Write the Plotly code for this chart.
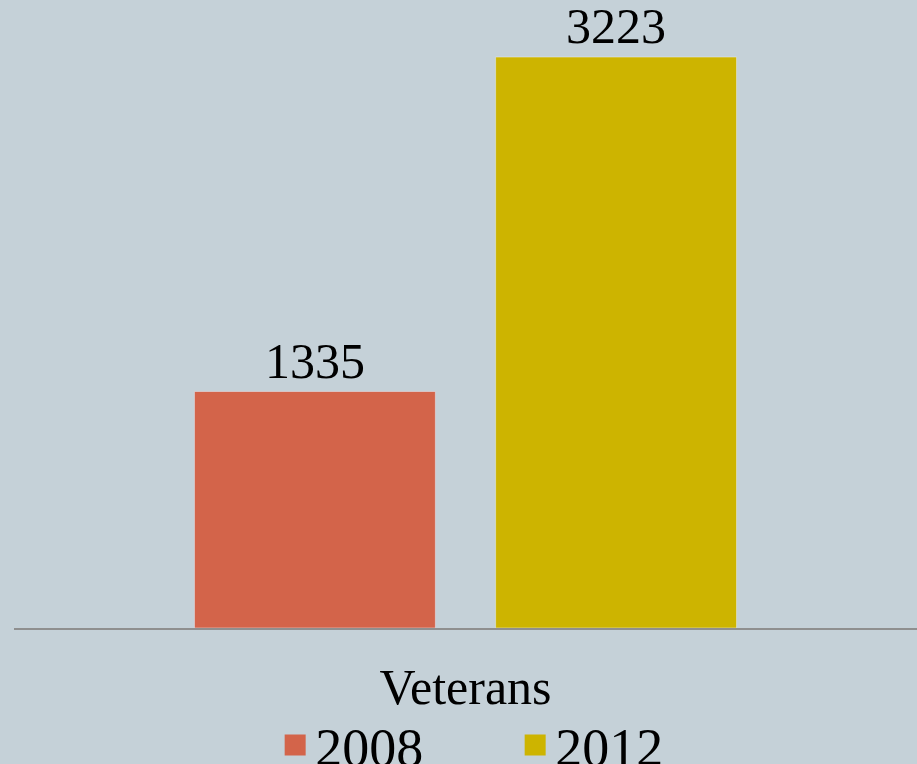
import plotly.graph_objects as go

categories = ["Veterans"]
series_names = ["2008", "2012"]
values_2008 = [1335]
values_2012 = [3223]
colors = ["#D3644A", "#CDB400"]

FONT = "Liberation Serif"
fig = go.Figure()
for name, vals, col in zip(series_names, [values_2008, values_2012], colors):
    fig.add_trace(go.Bar(
        x=categories, y=vals, name=name, marker_color=col,
        text=[str(v) for v in vals], textposition="outside",
        textfont=dict(family=FONT, size=50, color="black"),
        cliponaxis=False, showlegend=False,
    ))
for name, col in zip(series_names, colors):
    fig.add_trace(go.Scatter(
        x=[None], y=[None], mode="markers", name=name,
        marker=dict(symbol="square", size=16, color=col,
                    line=dict(color=col, width=5)),
    ))

fig.update_layout(
    width=917, height=764,
    margin=dict(l=14, r=0, t=0, b=136, autoexpand=False),
    paper_bgcolor="#C5D1D8", plot_bgcolor="#C5D1D8",
    barmode="group", bargap=0.333, bargroupgap=0.2,
    showlegend=True,
    legend=dict(orientation="h", x=0.555, xanchor="center", y=-0.12, yanchor="top",
                font=dict(family=FONT, size=54, color="black"),
                itemsizing="trace", entrywidth=195, bgcolor="rgba(0,0,0,0)"),
    font=dict(family=FONT, color="black"),
)
fig.update_xaxes(showline=True, linecolor="#8F8F8F", linewidth=2,
                 tickfont=dict(family=FONT, size=50, color="black"),
                 ticks="", ticklabelstandoff=14, showgrid=False)
fig.update_yaxes(range=[0, 3545], visible=False, showgrid=False, zeroline=False)
fig.write_html("out.html")
